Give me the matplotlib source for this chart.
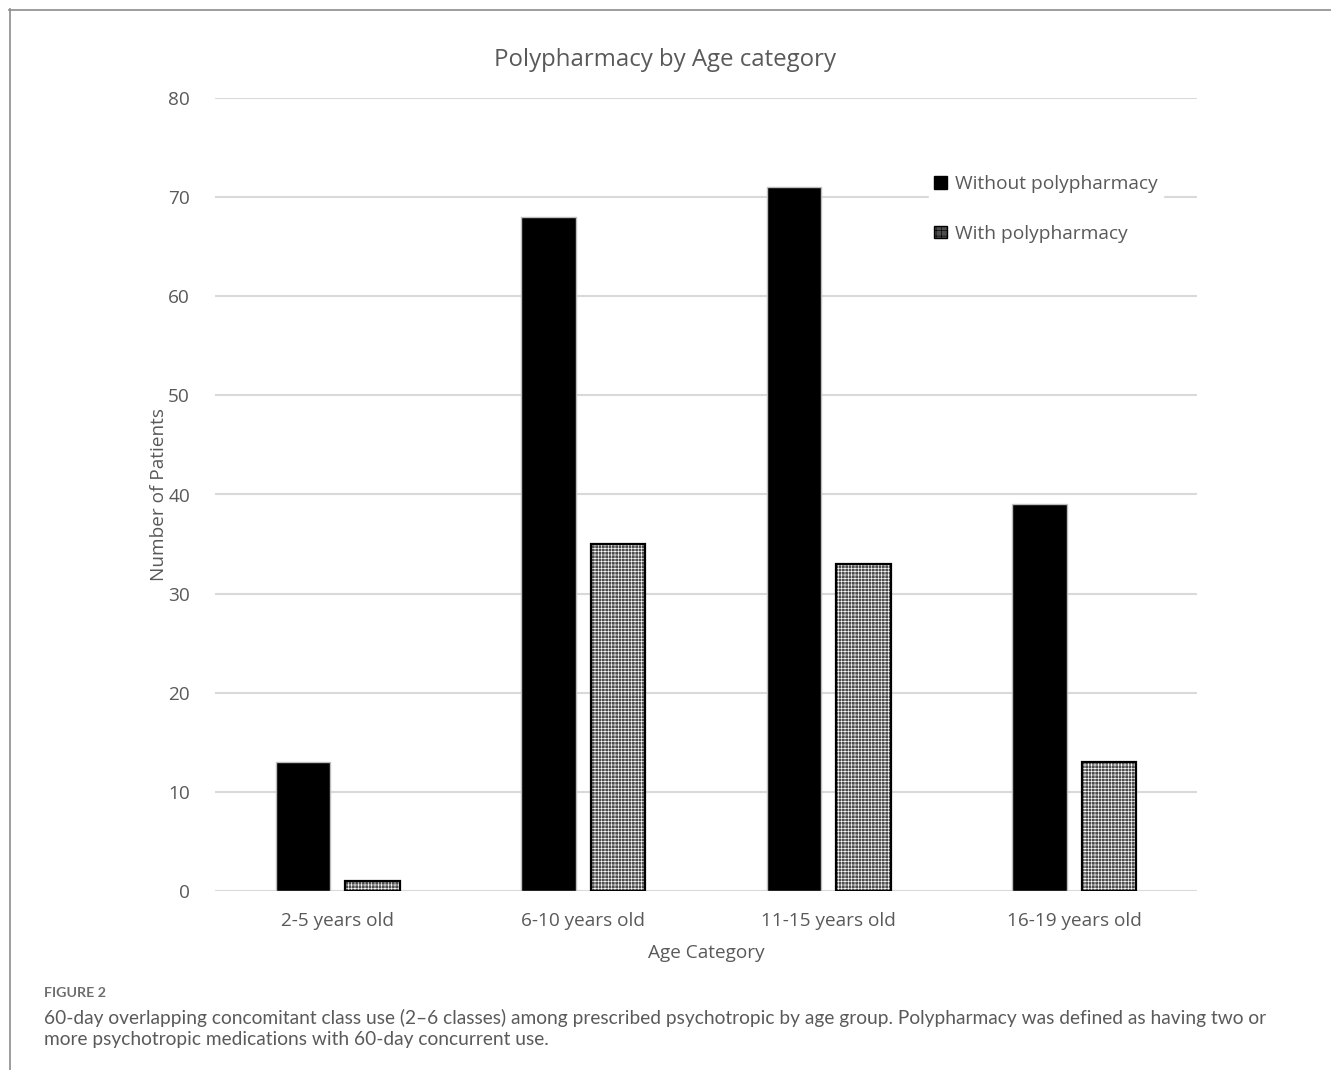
import numpy as np
import matplotlib.pyplot as plt
from matplotlib.lines import Line2D

plt.rcParams['font.family'] = ['Open Sans', 'DejaVu Sans']
plt.rcParams['hatch.linewidth'] = 0.45

categories = ['2-5 years old', '6-10 years old', '11-15 years old', '16-19 years old']
without_poly = [13, 68, 71, 39]
with_poly = [1, 35, 33, 13]
yticks = [0, 10, 20, 30, 40, 50, 60, 70, 80]

text_grey = '#595959'
hatch_face = '#4e4e4e'

fig = plt.figure(figsize=(13.31, 10.70), dpi=100)
ax = fig.add_axes([215 / 1331, 1 - 891 / 1070, 982 / 1331, 793 / 1070])

x = np.arange(len(categories))
w = 0.222
off = 0.141

ax.bar(x - off, without_poly, w, color='black', edgecolor='#bdbdbd', linewidth=1.0, zorder=3)
# hatched fill first, then a plain outline on top
ax.bar(x + off, with_poly, w, color=hatch_face, edgecolor='white', hatch='+++++',
       linewidth=0, zorder=3)
ax.bar(x + off, with_poly, w, fill=False, edgecolor='black', linewidth=1.6, zorder=4)

ax.set_xlim(-0.5, 3.5)
ax.set_ylim(0, 80)
ax.set_yticks(yticks)
ax.set_xticks(x)
ax.set_xticklabels(categories)
ax.tick_params(length=0, labelsize=13.7, labelcolor=text_grey)
ax.tick_params(axis='y', pad=18)
ax.tick_params(axis='x', pad=15)
ax.grid(axis='y', color='#d9d9d9', linewidth=1.5, zorder=0)
for s in ax.spines.values():
    s.set_visible(False)

fig.text(0.5, 1 - 60 / 1070, 'Polypharmacy by Age category', fontsize=17.3,
         color=text_grey, ha='center', va='center')
ax.set_ylabel('Number of Patients', fontsize=13.7, color=text_grey, labelpad=0)
ax.set_xlabel('Age Category', fontsize=13.7, color=text_grey, labelpad=10)

handles = [
    plt.Rectangle((0, 0), 1, 1, facecolor='black', edgecolor='black'),
    plt.Rectangle((0, 0), 1, 1, facecolor=hatch_face, edgecolor='black', hatch='+++'),
]
leg = ax.legend(handles, ['Without polypharmacy', 'With polypharmacy'],
                loc='upper left', bbox_to_anchor=(0.717, 0.922), frameon=True,
                fontsize=13.8, labelcolor=text_grey, handlelength=0.65, handleheight=0.65,
                handletextpad=0.4, labelspacing=1.65, borderpad=0.3)
leg.get_frame().set_edgecolor('white')
leg.get_frame().set_facecolor('white')
leg.get_frame().set_alpha(1)
leg.set_zorder(5)

# frame lines at top and left of the panel
fig.add_artist(Line2D([9 / 1331, 1], [1 - 9.5 / 1070] * 2, color='#8c8c8c', linewidth=1.2))
fig.add_artist(Line2D([9.5 / 1331] * 2, [0, 1 - 9 / 1070], color='#8c8c8c', linewidth=1.2))

fig.text(44 / 1331, 1 - 993 / 1070, 'FIGURE 2', fontsize=10.3, color='#6e6e6e',
         family=['Lato', 'DejaVu Sans'], weight='bold', va='center')
fig.text(44 / 1331, 1 - 1018 / 1070,
         '60-day overlapping concomitant class use (2\u20136 classes) among prescribed psychotropic '
         'by age group. Polypharmacy was defined as having two or',
         fontsize=13.8, color='#5a5a5a', family=['Lato', 'DejaVu Sans'], va='center')
fig.text(44 / 1331, 1 - 1040 / 1070,
         'more psychotropic medications with 60-day concurrent use.',
         fontsize=13.8, color='#5a5a5a', family=['Lato', 'DejaVu Sans'], va='center')

fig.savefig('out.png', dpi=100)
